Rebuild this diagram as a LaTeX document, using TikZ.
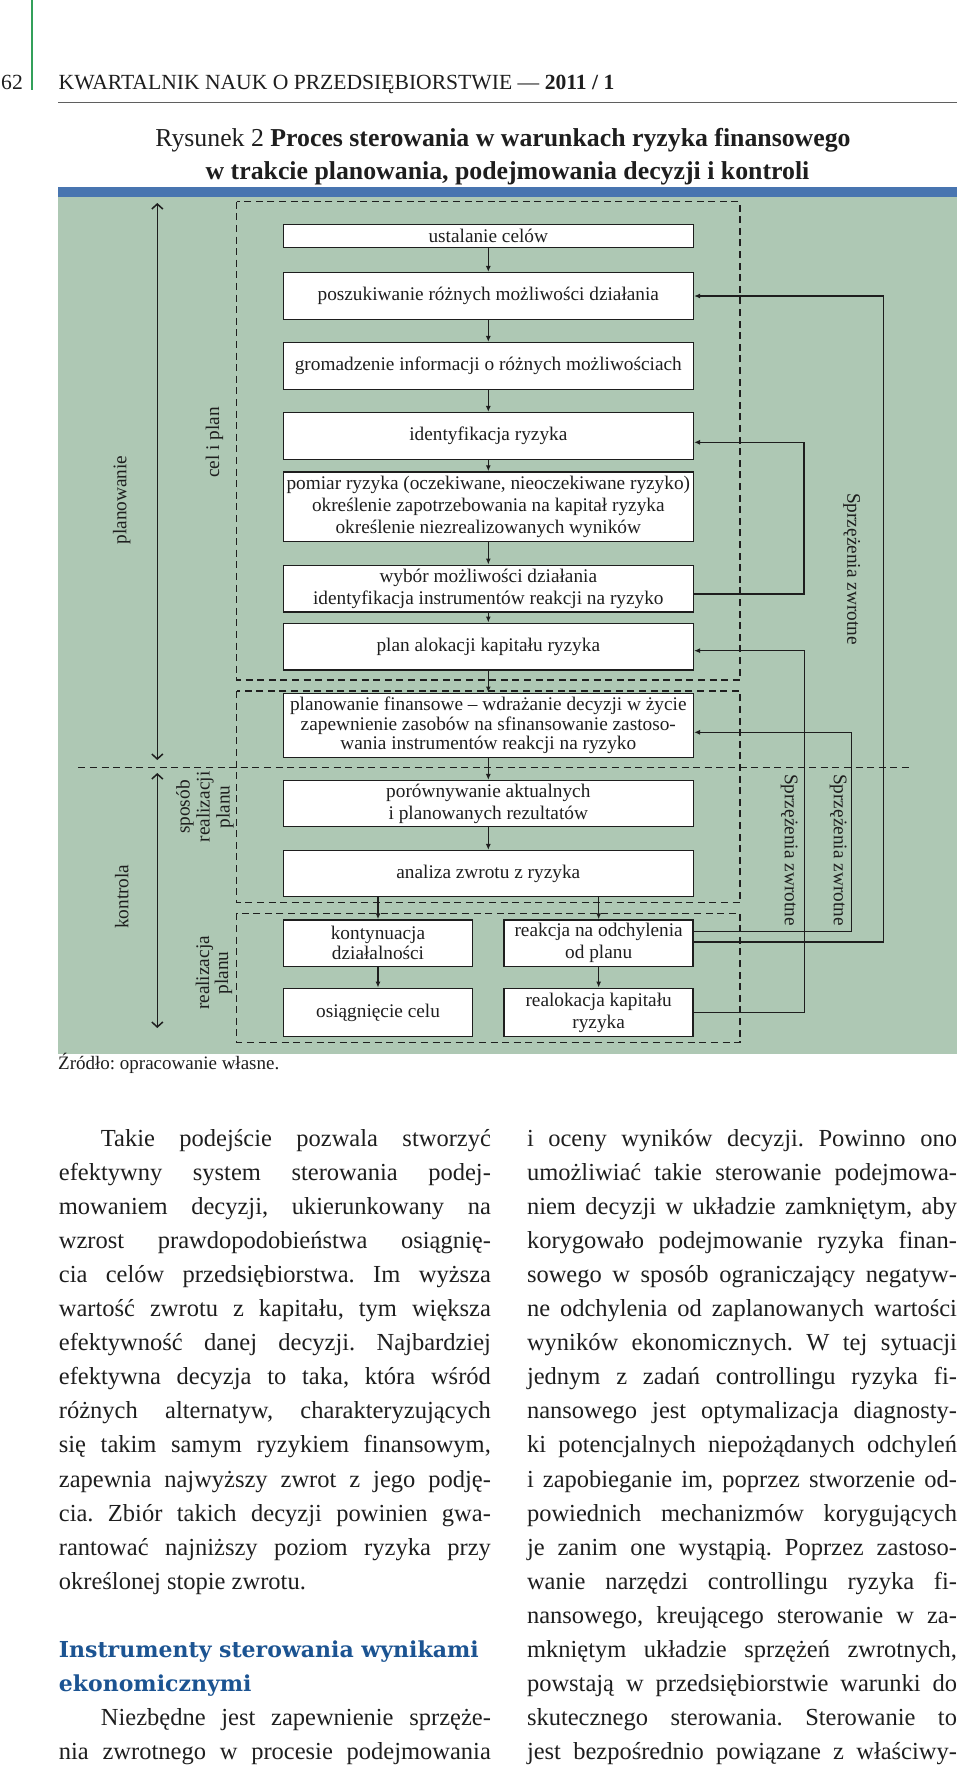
\documentclass[tikz,border=0pt]{standalone}
\usepackage{fontspec}
\setmainfont{Liberation Serif}
\newfontfamily\headserif{DejaVu Serif}
\usetikzlibrary{arrows.meta}
\definecolor{bggreen}{RGB}{174,200,180}
\definecolor{barblue}{RGB}{72,117,176}
\definecolor{headblue}{RGB}{28,84,146}
\definecolor{topgreen}{RGB}{50,160,90}
\definecolor{rulegray}{RGB}{95,95,95}
\definecolor{ink}{RGB}{30,30,30}
\newcommand{\mydiag}{\fontsize{19.3}{22}\selectfont}
\newcommand{\mybody}{\fontsize{24.5}{34}\selectfont}
\newcommand{\myhead}{\fontsize{21.6}{24}\selectfont}
\newcommand{\mytitle}{\fontsize{25.8}{30}\selectfont}
\newcommand{\mysec}{\headserif\bfseries\fontsize{22}{34}\selectfont}
\newcommand{\jl}[5]{\node[body] (#1) at (#2,#3) {\makebox[#4pt][s]{#5}};}
\newcommand{\pl}[4]{\node[body] (#1) at (#2,#3) {#4};}
\frenchspacing
\begin{document}
\begin{tikzpicture}[x=1pt,y=-1pt,
  box/.style={draw=ink,line width=1.5pt,fill=white,inner sep=0pt,align=center,font=\mydiag,text=ink},
  wide/.style={minimum width=410pt},
  narrow/.style={minimum width=189pt},
  arr/.style={draw=ink,line width=1.3pt,-{Latex[length=6pt,width=5pt]}},
  dashbox/.style={draw=ink,line width=1.3pt,dash pattern=on 7pt off 4.6pt},
  bigarr/.style={draw=ink,line width=1.5pt,{Straight Barb[length=5pt,width=11pt]}-{Straight Barb[length=5pt,width=11pt]}},
  lab/.style={font=\mydiag,text=ink,inner sep=0pt,align=center},
  body/.style={font=\mybody\frenchspacing,text=ink,inner sep=0pt,anchor=base west},
]
\useasboundingbox (0,0) rectangle (960,1769);
\fill[white] (0,0) rectangle (960,1769);

% ---------- page header ----------
\draw[topgreen,line width=1.5pt] (32,0) -- (32,90);
\node[font=\myhead,text=ink,inner sep=0pt,anchor=base west] (pg) at (1,89) {62};
\node[font=\myhead,text=ink,inner sep=0pt,anchor=base west] (hdr) at (58.5,89) {KWARTALNIK NAUK O PRZEDSIĘBIORSTWIE — \textbf{2011 / 1}};
\draw[rulegray,line width=1pt] (58,102.7) -- (957,102.7);
\node[font=\mytitle,text=ink,inner sep=0pt,anchor=base] (t1) at (503,146) {Rysunek 2 \textbf{Proces sterowania w warunkach ryzyka finansowego}};
\node[font=\mytitle,text=ink,inner sep=0pt,anchor=base] (t2) at (507.5,179) {\textbf{w trakcie planowania, podejmowania decyzji i kontroli}};

% ---------- figure background ----------
\fill[barblue] (58,186.7) rectangle (957,197);
\fill[bggreen] (58,197) rectangle (957,1054);

% dashed groups
\draw[dashbox] (236.7,201.7) rectangle (740,680);
\draw[dashbox] (236.7,691) rectangle (740,902.7);
\draw[dashbox] (236.7,913.3) rectangle (740,1042.3);
\draw[dashbox] (78.3,767.7) -- (913,767.7);

% side arrows
\coordinate (pa) at (157.3,203);
\coordinate (pb) at (157.3,760);
\coordinate (ka) at (157.3,773);
\coordinate (kb) at (157.3,1028);
\draw[bigarr] (pa) -- (pb);
\draw[bigarr] (ka) -- (kb);

% side labels
\node[lab,rotate=90] (lplan) at (121.7,500) {planowanie};
\node[lab,rotate=90] (lcel) at (214.5,442.5) {cel i plan};
\node[lab,rotate=90] (lkon) at (121.7,896.7) {kontrola};
\node[lab,rotate=90,font=\fontsize{19.3}{20}\selectfont] (lspos) at (205,807) {sposób\\realizacji\\planu};
\node[lab,rotate=90,font=\fontsize{19.3}{19}\selectfont] (lreal) at (214,973) {realizacja\\planu};

% ---------- boxes ----------
\node[box,wide,minimum height=23.4pt] (b1) at (488.3,236) {ustalanie celów};
\node[box,wide,minimum height=46.6pt] (b2) at (488.3,296) {poszukiwanie różnych możliwości działania};
\node[box,wide,minimum height=46.6pt] (b3) at (488.3,366) {gromadzenie informacji o różnych możliwościach};
\node[box,wide,minimum height=46.6pt] (b4) at (488.3,436) {identyfikacja ryzyka};
\node[box,wide,minimum height=69.7pt] (b5) at (488.3,506.85) {pomiar ryzyka (oczekiwane, nieoczekiwane ryzyko)\\określenie zapotrzebowania na kapitał ryzyka\\określenie niezrealizowanych wyników};
\node[box,wide,minimum height=46.7pt] (b6) at (488.3,588.65) {wybór możliwości działania\\identyfikacja instrumentów reakcji na ryzyko};
\node[box,wide,minimum height=46.7pt] (b7) at (488.3,646.65) {plan alokacji kapitału ryzyka};
\node[box,wide,minimum height=64.4pt,font=\fontsize{19.3}{19.5}\selectfont] (b8) at (488.3,725.5) {planowanie finansowe – wdrażanie decyzji w życie\\zapewnienie zasobów na sfinansowanie zastoso-\\wania instrumentów reakcji na ryzyko};
\node[box,wide,minimum height=46pt] (b9) at (488.3,803.7) {porównywanie aktualnych\\i planowanych rezultatów};
\node[box,wide,minimum height=46pt] (b10) at (488.3,873.7) {analiza zwrotu z ryzyka};
\node[box,narrow,minimum height=46.5pt,font=\fontsize{19.3}{20}\selectfont] (kont) at (378,943.25) {kontynuacja\\działalności};
\node[box,narrow,minimum height=48.2pt] (osiag) at (378,1012.4) {osiągnięcie celu};
\node[box,narrow,minimum height=46.5pt] (reak) at (598.65,943.25) {reakcja na odchylenia\\od planu};
\node[box,narrow,minimum height=48.2pt] (realok) at (598.65,1012.4) {realokacja kapitału\\ryzyka};

% main flow
\draw[arr] (b1.south) -- (b2.north);
\draw[arr] (b2.south) -- (b3.north);
\draw[arr] (b3.south) -- (b4.north);
\draw[arr] (b4.south) -- (b5.north);
\draw[arr] (b5.south) -- (b6.north);
\draw[arr] (b6.south) -- (b7.north);
\draw[arr] (b7.south) -- (b8.north);
\draw[arr] (b8.south) -- (b9.north);
\draw[arr] (b9.south) -- (b10.north);
\draw[arr] (b10.south -| kont.north) -- (kont.north);
\draw[arr] (b10.south -| reak.north) -- (reak.north);
\draw[arr] (kont.south) -- (osiag.north);
\draw[arr] (reak.south) -- (realok.north);

% feedback loops
\draw[arr] ([yshift=-5.35pt]b6.east) -- ++(110,0) |- ([yshift=-6.3pt]b4.east);
\draw[arr] (realok.east) -- ++(110.3,0) |- ([yshift=-4pt]b7.east);
\draw[arr] ([yshift=11.5pt]reak.east) -- ++(157.7,0) |- ([yshift=-6.8pt]b8.east);
\draw[arr] ([yshift=1.2pt]reak.east) -- ++(189.3,0) |- (b2.east);

\node[lab,rotate=-90] (sz1) at (851.7,569) {Sprzężenia zwrotne};
\node[lab,rotate=-90] (sz2) at (789.3,850) {Sprzężenia zwrotne};
\node[lab,rotate=-90] (sz3) at (838.3,850) {Sprzężenia zwrotne};

\node[font=\fontsize{19}{22}\selectfont,text=ink,inner sep=0pt,anchor=base west] (src) at (58,1069) {Źródło: opracowanie własne.};

% ---------- body text, left column ----------
\jl{l0}{100.7}{1146}{390}{Takie podejście pozwala stworzyć}
\jl{l1}{58.7}{1180.1}{432}{efektywny system sterowania podej-}
\jl{l2}{58.7}{1214.2}{432}{mowaniem decyzji, ukierunkowany na}
\jl{l3}{58.7}{1248.3}{432}{wzrost prawdopodobieństwa osiągnię-}
\jl{l4}{58.7}{1282.4}{432}{cia celów przedsiębiorstwa. Im wyższa}
\jl{l5}{58.7}{1316.5}{432}{wartość zwrotu z kapitału, tym większa}
\jl{l6}{58.7}{1350.6}{432}{efektywność danej decyzji. Najbardziej}
\jl{l7}{58.7}{1384.7}{432}{efektywna decyzja to taka, która wśród}
\jl{l8}{58.7}{1418.8}{432}{różnych alternatyw, charakteryzujących}
\jl{l9}{58.7}{1452.9}{432}{się takim samym ryzykiem finansowym,}
\jl{l10}{58.7}{1487}{432}{zapewnia najwyższy zwrot z jego podję-}
\jl{l11}{58.7}{1521.1}{432}{cia. Zbiór takich decyzji powinien gwa-}
\jl{l12}{58.7}{1555.2}{432}{rantować najniższy poziom ryzyka przy}
\pl{l13}{58.7}{1589.3}{określonej stopie zwrotu.}
\node[body,font=\mysec,text=headblue] (h1) at (58.7,1657.5) {Instrumenty sterowania wynikami};
\node[body,font=\mysec,text=headblue] (h2) at (58.7,1691.6) {ekonomicznymi};
\jl{l14}{100.7}{1725.7}{390}{Niezbędne jest zapewnienie sprzęże-}
\jl{l15}{58.7}{1759.8}{432}{nia zwrotnego w procesie podejmowania}

% ---------- body text, right column ----------
\jl{r0}{526.8}{1146}{430}{i oceny wyników decyzji. Powinno ono}
\jl{r1}{526.8}{1180.1}{430}{umożliwiać takie sterowanie podejmowa-}
\jl{r2}{526.8}{1214.2}{430}{niem decyzji w układzie zamkniętym, aby}
\jl{r3}{526.8}{1248.3}{430}{korygowało podejmowanie ryzyka finan-}
\jl{r4}{526.8}{1282.4}{430}{sowego w sposób ograniczający negatyw-}
\jl{r5}{526.8}{1316.5}{430}{ne odchylenia od zaplanowanych wartości}
\jl{r6}{526.8}{1350.6}{430}{wyników ekonomicznych. W tej sytuacji}
\jl{r7}{526.8}{1384.7}{430}{jednym z zadań controllingu ryzyka fi-}
\jl{r8}{526.8}{1418.8}{430}{nansowego jest optymalizacja diagnosty-}
\jl{r9}{526.8}{1452.9}{430}{ki potencjalnych niepożądanych odchyleń}
\jl{r10}{526.8}{1487}{430}{i zapobieganie im, poprzez stworzenie od-}
\jl{r11}{526.8}{1521.1}{430}{powiednich mechanizmów korygujących}
\jl{r12}{526.8}{1555.2}{430}{je zanim one wystąpią. Poprzez zastoso-}
\jl{r13}{526.8}{1589.3}{430}{wanie narzędzi controllingu ryzyka fi-}
\jl{r14}{526.8}{1623.4}{430}{nansowego, kreującego sterowanie w za-}
\jl{r15}{526.8}{1657.5}{430}{mkniętym układzie sprzężeń zwrotnych,}
\jl{r16}{526.8}{1691.6}{430}{powstają w przedsiębiorstwie warunki do}
\jl{r17}{526.8}{1725.7}{430}{skutecznego sterowania. Sterowanie to}
\jl{r18}{526.8}{1759.8}{430}{jest bezpośrednio powiązane z właściwy-}
\end{tikzpicture}
\end{document}
